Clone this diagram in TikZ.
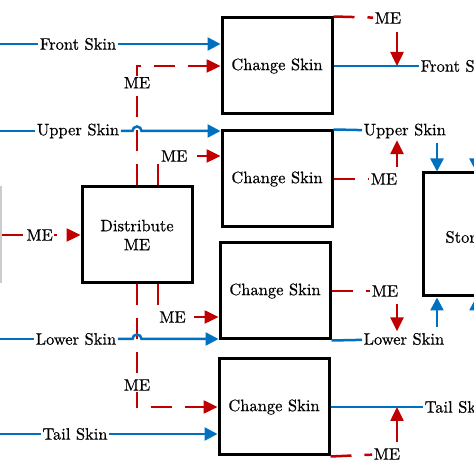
\documentclass[tikz,border=0pt]{standalone}
\usepackage{fontspec}
\newfontfamily\skinfont{lmroman10-regular.otf}[FakeBold=0.6]
\usetikzlibrary{arrows.meta,calc}
\definecolor{skinblue}{RGB}{0,112,192}
\definecolor{mered}{RGB}{192,0,0}
\tikzset{
  blk/.style={draw, line width=3pt, minimum width=110pt, minimum height=96pt, inner sep=0pt, align=center},
  lbl/.style={fill=white, inner sep=1.5pt},
  bl/.style={draw=skinblue, line width=2.5pt},
  barr/.style={bl, -{Triangle[length=13pt,width=13pt]}},
  rd/.style={draw=mered, line width=2.5pt},
  rdash/.style={rd, dash pattern=on 21pt off 13pt},
  rarr/.style={rd, -{Triangle[length=14pt,width=13pt]}},
  rdarr/.style={rdash, -{Triangle[length=14pt,width=13pt]}}
}
\begin{document}
\begin{tikzpicture}[x=1pt,y=1pt, font=\skinfont\fontsize{16.5}{19}\selectfont]
\useasboundingbox (0,0) rectangle (474,474);
\clip (0,0) rectangle (474,474);

\node[draw=gray!40, line width=2pt, minimum width=102pt, minimum height=95pt] (prv) at (-50,239) {};
\node[blk] (dme) at (137,239) {Distribute\\ME};
\node[blk] (cs1) at (277,408) {Change Skin};
\node[blk] (cs2) at (277,295) {Change Skin};
\node[blk] (cs3) at (275,183) {Change Skin};
\node[blk] (cs4) at (274,67) {Change Skin};
\node[blk, minimum width=120pt, minimum height=123pt] (sto) at (483,239.5) {};
\node[anchor=west] (stt) at (442,237) {Store};

\coordinate (in1) at (0,430);
\coordinate (in2) at (0,343);
\coordinate (in3) at (0,135);
\coordinate (in4) at (0,40);
\node[lbl] (fsk) at (78,430) {Front Skin};
\node[lbl] (usk) at (78,343) {Upper Skin};
\node[lbl] (lsk) at (76,135) {Lower Skin};
\node[lbl] (tsk) at (75,40) {Tail Skin};

\draw[rdarr] (prv.east) -- node[lbl, pos=0.48] (me0) {ME} (dme.west);
\draw[rdarr] (dme.north) |- node[lbl, pos=0.43] (me1) {ME} (cs1.west);
\draw[rdarr] ($(dme.north)+(21,0)$) |- node[lbl, pos=0.63] (me2) {ME} ($(cs2.west)+(0,23)$);
\draw[rdarr] ($(dme.south)+(21,0)$) |- node[lbl, pos=0.62] (me3) {ME} ($(cs3.west)+(0,-26)$);
\draw[rdarr] (dme.south) |- node[lbl, pos=0.41] (me4) {ME} (cs4.west);

\draw[bl] (in1) -- (fsk);
\draw[barr] (fsk) -- (fsk -| cs1.west);
\draw[bl] (in2) -- (usk);
\draw[barr] (usk) -- ($(usk -| dme.north)+(-4.5,0)$) arc (180:0:4.5) -- (usk -| cs2.west);
\draw[bl] (in3) -- (lsk);
\draw[barr] (lsk) -- ($(lsk -| dme.south)+(-4.5,0)$) arc (180:0:4.5) -- (lsk -| cs3.west);
\draw[bl] (in4) -- (tsk);
\draw[barr] (tsk) -- (tsk -| cs4.west);

\node[lbl, anchor=west] (fso) at (419,408) {Front Skin};
\node[lbl, anchor=west] (uso) at (362,343) {Upper Skin};
\node[lbl, anchor=west] (lso) at (362,135) {Lower Skin};
\node[lbl, anchor=west] (tso) at (423,67) {Tail Skin};
\node[lbl] (mo1) at (388,456) {ME};
\node[lbl] (mo2) at (384,295) {ME};
\node[lbl] (mo3) at (385,183) {ME};
\node[lbl] (mo4) at (387,20) {ME};

\draw[bl] (cs1.east) -- (fso);
\draw[bl] (cs2.north east) -- (uso);
\draw[bl] (cs3.south east) -- (lso);
\draw[bl] (cs4.east) -- (tso);
\draw[rdash] (cs1.north east) -- (mo1);
\draw[rdash] (cs2.east) -- (mo2);
\draw[rdash] (cs3.east) -- (mo3);
\draw[rdash] (cs4.south east) -- (mo4);

\coordinate (a1) at (397,442);
\coordinate (a2) at (397,307);
\coordinate (a3) at (397,170);
\coordinate (a4) at (397,32);
\draw[rarr] (a1) -- (a1 |- cs1.east);
\draw[rarr] (a2) -- (a2 |- uso.south);
\draw[rarr] (a3) -- (a3 |- lso.north);
\draw[rarr] (a4) -- (a4 |- cs4.east);

\coordinate (b1) at (437,331);
\coordinate (b2) at (476,331);
\coordinate (b3) at (437,147);
\coordinate (b4) at (476,147);
\draw[barr] (b1) -- (b1 |- sto.north);
\draw[barr] (b2) -- (b2 |- sto.north);
\draw[barr] (b3) -- (b3 |- sto.south);
\draw[barr] (b4) -- (b4 |- sto.south);

\end{tikzpicture}
\end{document}
